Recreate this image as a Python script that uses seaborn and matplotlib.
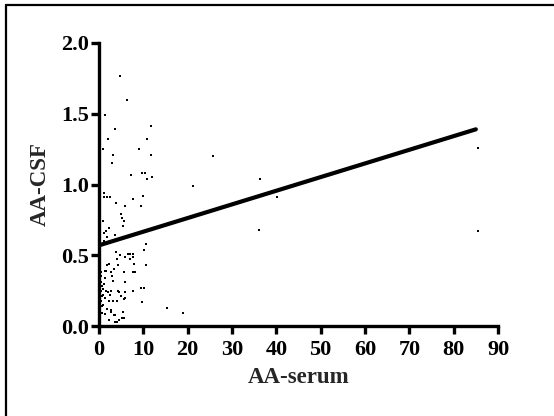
import matplotlib
matplotlib.use("Agg")
import matplotlib.pyplot as plt
from matplotlib.lines import Line2D
import seaborn as sns
import pandas as pd

# ---- data ----
aa_serum = [
    4.7, 6.3, 1.4, 3.5, 11.7, 2.1, 10.8, 1.0, 9.1, 3.1, 11.7, 3.0, 7.2, 9.7, 10.4, 10.9, 11.9,
    1.1, 1.2, 1.7, 2.4, 3.8, 7.7, 10.0, 5.9, 9.4, 5.0, 5.3, 5.7, 5.4, 0.9, 1.2, 1.6, 2.3, 1.7,
    3.5, 1.1, 10.5, 10.1,
    25.8, 21.3, 36.3, 40.2, 36.2, 85.4, 85.4, 15.3, 18.9,
    3.8, 4.8, 5.8, 6.5, 7.0, 7.6, 7.7, 4.1, 6.9, 2.2, 4.3, 7.8, 10.7, 1.4, 2.8, 3.3, 5.6, 7.6,
    8.2, 2.9, 3.2, 1.3, 1.1, 5.9, 9.5, 10.1, 0.9, 1.6, 2.0, 2.6, 4.2, 4.4, 5.9, 7.7, 0.8, 1.3,
    2.5, 5.0, 5.6, 5.9, 2.2, 3.1, 4.1, 9.7, 1.8, 2.6, 2.6, 5.4, 1.4, 3.3, 3.7, 5.2, 5.6, 2.2,
    3.5, 4.1, 4.4,
    0.4, 0.5, 0.7, 0.4, 0.6, 0.4, 0.6, 0.7, 1.0, 0.3, 0.5, 0.2, 1.7, 1.5,
]
aa_csf = [
    1.77, 1.60, 1.49, 1.39, 1.41, 1.32, 1.32, 1.25, 1.25, 1.21, 1.21, 1.15, 1.07, 1.08, 1.08, 1.04, 1.05,
    0.94, 0.91, 0.91, 0.91, 0.87, 0.90, 0.92, 0.85, 0.85, 0.79, 0.76, 0.74, 0.71, 0.74, 0.66, 0.67, 0.69, 0.63,
    0.64, 0.60, 0.58, 0.54,
    1.20, 0.99, 1.04, 0.91, 0.68, 1.26, 0.67, 0.13, 0.09,
    0.52, 0.50, 0.49, 0.51, 0.51, 0.51, 0.49, 0.47, 0.47, 0.44, 0.43, 0.44, 0.43, 0.39, 0.38, 0.40, 0.38, 0.38,
    0.38, 0.35, 0.32, 0.34, 0.30, 0.31, 0.27, 0.27, 0.26, 0.25, 0.24, 0.25, 0.25, 0.24, 0.24, 0.25, 0.22, 0.20,
    0.22, 0.21, 0.19, 0.20, 0.18, 0.18, 0.18, 0.17, 0.12, 0.11, 0.10, 0.10, 0.085, 0.08, 0.08, 0.06, 0.055, 0.04,
    0.03, 0.03, 0.04,
    0.35, 0.31, 0.28, 0.25, 0.21, 0.18, 0.14, 0.09, 0.15, 0.12, 0.38, 0.30, 0.43, 0.39,
]
# regression line end points
fit_x = [0, 85]
fit_y = [0.57, 1.39]

x_ticks = [0, 10, 20, 30, 40, 50, 60, 70, 80, 90]
y_ticks = [0.0, 0.5, 1.0, 1.5, 2.0]
y_tick_labels = ["0.0", "0.5", "1.0", "1.5", "2.0"]

df = pd.DataFrame({"AA-serum": aa_serum, "AA-CSF": aa_csf})
fit_df = pd.DataFrame({"x": fit_x, "y": fit_y})

sns.set_style("ticks")
plt.rcParams["font.family"] = ["Liberation Serif", "DejaVu Serif"]
plt.rcParams["font.weight"] = "bold"

fig = plt.figure(figsize=(5.54, 4.16), dpi=100)
ax = fig.add_axes([99 / 554, 1 - 326 / 416, (498 - 99) / 554, (326 - 43) / 416])

sns.scatterplot(data=df, x="AA-serum", y="AA-CSF", marker="s", s=3, color="black",
                linewidth=0, ax=ax, clip_on=False)
sns.lineplot(data=fit_df, x="x", y="y", color="black", linewidth=3.0, ax=ax)

ax.set_xlim(0, 90)
ax.set_ylim(0, 2.0)
ax.set_xticks(x_ticks)
ax.set_yticks(y_ticks)
ax.set_yticklabels(y_tick_labels)

for side in ["top", "right"]:
    ax.spines[side].set_visible(False)
for side in ["left", "bottom"]:
    ax.spines[side].set_linewidth(2.4)
    ax.spines[side].set_color("black")

ax.tick_params(axis="both", direction="out", length=6, width=2.4, colors="black",
               labelsize=16)
ax.tick_params(axis="y", pad=1)
ax.tick_params(axis="x", pad=4)
for lab in ax.get_xticklabels() + ax.get_yticklabels():
    lab.set_fontweight("bold")

ax.set_xlabel("AA-serum", fontsize=16.5, fontweight="bold", labelpad=5)
ax.set_ylabel("AA-CSF", fontsize=16.5, fontweight="bold", labelpad=8)

# outer frame (left and top only visible in the reference)
fig.add_artist(Line2D([6 / 554, 6 / 554], [0, 1 - 5 / 416], transform=fig.transFigure,
                      color="black", linewidth=1.6))
fig.add_artist(Line2D([6 / 554, 1], [1 - 5 / 416, 1 - 5 / 416], transform=fig.transFigure,
                      color="black", linewidth=1.6))

fig.savefig("out.png", dpi=100)
